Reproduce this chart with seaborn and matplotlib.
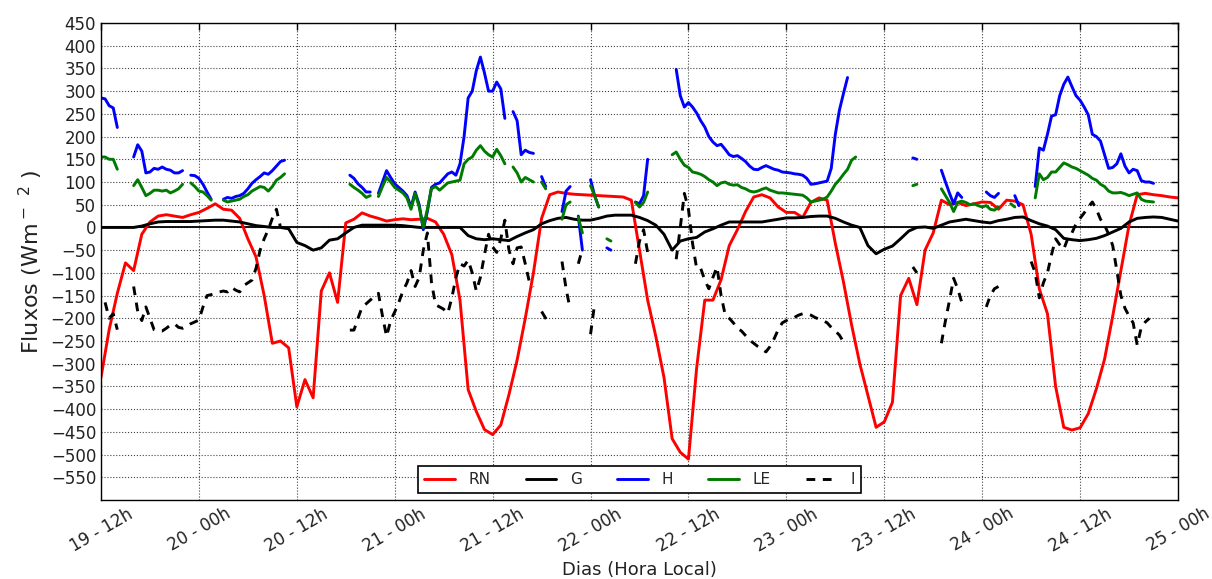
import numpy as np
import pandas as pd
import matplotlib
matplotlib.use("Agg")
import matplotlib.pyplot as plt
from matplotlib.lines import Line2D
import seaborn as sns

nan = np.nan

# Time axis: hours counted from day 19, 12h (local time)
hours = np.arange(0, 133)            # hourly series (RN, G)
half_hours = np.arange(0, 265) / 2.0  # half-hourly series (H, LE, I)

tick_hours = [0, 12, 24, 36, 48, 60, 72, 84, 96, 108, 120, 132]
tick_labels = ["19 - 12h", "20 - 00h", "20 - 12h", "21 - 00h", "21 - 12h",
               "22 - 00h", "22 - 12h", "23 - 00h", "23 - 12h", "24 - 00h",
               "24 - 12h", "25 - 00h"]

# Net radiation (hourly)
rn = [-330, -225, -145, -78, -95, -15, 12, 25, 28, 25,
      22, 28, 33, 42, 52, 40, 38, 20, -25, -65,
      -150, -255, -250, -265, -395, -335, -375, -140, -100, -165,
      10, 18, 32, 25, 20, 14, 17, 19, 17, 18,
      20, 12, -15, -60, -160, -357, -405, -445, -456, -435,
      -368, -292, -200, -100, 20, 72, 78, 75, 73, 72,
      71, 70, 69, 68, 67, 60, -50, -160, -240, -330,
      -465, -495, -510, -310, -160, -160, -115, -40, -5, 35,
      67, 72, 65, 45, 33, 33, 22, 55, 65, 60,
      -35, -120, -215, -300, -370, -440, -428, -385, -150, -112,
      -170, -50, -12, 60, 50, 55, 48, 52, 56, 55,
      40, 60, 58, 50, -15, -135, -190, -350, -440, -446,
      -441, -410, -355, -290, -195, -95, 5, 72, 75, 72,
      70, 67, 65]

# Soil heat flux (hourly)
g = [0, 0, 0, 0, 0, 3, 8, 12, 13, 13,
     13, 13, 14, 15, 16, 16, 14, 12, 8, 4,
     2, 0, 0, -3, -33, -40, -50, -45, -28, -25,
     -12, 0, 5, 5, 5, 5, 5, 4, 2, 0,
     0, 0, 0, 0, 0, -18, -25, -27, -25, -27,
     -29, -20, -12, -5, 8, 15, 20, 22, 18, 16,
     16, 20, 25, 27, 27, 27, 22, 15, 5, -15,
     -50, -30, -25, -22, -10, -3, 5, 12, 12, 12,
     12, 12, 15, 18, 21, 21, 22, 24, 25, 25,
     20, 12, 5, 0, -40, -58, -48, -41, -25, -8,
     0, 1, -2, 5, 12, 15, 18, 15, 12, 10,
     15, 18, 22, 23, 15, 8, 3, -5, -24, -27,
     -29, -27, -24, -18, -10, -2, 12, 20, 22, 23,
     22, 18, 14]

# Sensible heat flux (half-hourly)
h = [285, 283, 268, 263, 220, nan, nan, nan, 155, 182,
     168, 120, 122, 130, 128, 133, 128, 126, 120, 120,
     125, nan, 115, 114, 108, 95, 78, 62, nan, nan,
     62, 66, 64, 68, 70, 75, 85, 97, 105, 112,
     120, 117, 125, 135, 145, 148, nan, nan, nan, nan,
     nan, nan, nan, nan, nan, nan, nan, nan, nan, nan,
     nan, 115, 108, 96, 88, 78, 78, nan, 75, 100,
     125, 110, 96, 88, 80, 70, 45, 78, 50, -5,
     35, 88, 95, 98, 108, 118, 122, 115, 140, 200,
     285, 300, 345, 375, 340, 300, 300, 320, 305, 240,
     nan, 255, 235, 160, 170, 165, 163, nan, 112, 90,
     nan, nan, nan, 35, 80, 90, nan, 25, -50, nan,
     105, 70, 45, nan, -45, -50, nan, nan, nan, nan,
     nan, 56, 52, 70, 150, nan, nan, nan, nan, nan,
     nan, 348, 290, 265, 275, 265, 252, 235, 221, 200,
     188, 180, 183, 172, 160, 156, 158, 152, 145, 135,
     128, 127, 132, 136, 132, 128, 126, 122, 121, 120,
     118, 117, 115, 108, 95, 96, 98, 100, 102, 130,
     205, 258, 295, 330, nan, nan, nan, nan, nan, nan,
     nan, nan, nan, nan, nan, nan, nan, nan, nan, 153,
     150, nan, nan, nan, nan, nan, 126, 100, 75, 52,
     76, 66, nan, nan, nan, nan, nan, 78, 70, 66,
     75, nan, nan, nan, 70, 48, nan, nan, nan, 90,
     175, 170, 205, 245, 248, 290, 315, 331, 310, 290,
     280, 265, 248, 205, 200, 190, 160, 130, 132, 140,
     162, 135, 120, 128, 125, 103, 100, 100, 97, nan,
     nan, nan, nan, nan, nan]

# Latent heat flux (half-hourly)
le = [155, 155, 150, 150, 128, nan, nan, nan, 92, 105,
      88, 70, 75, 82, 82, 80, 82, 76, 80, 85,
      95, nan, 98, 90, 80, 78, 70, 60, nan, nan,
      60, 56, 58, 60, 62, 68, 72, 80, 85, 90,
      88, 80, 90, 104, 110, 118, nan, nan, nan, nan,
      nan, nan, nan, nan, nan, nan, nan, nan, nan, nan,
      nan, 95, 88, 82, 75, 66, 70, nan, 68, 90,
      110, 100, 88, 82, 76, 65, 40, 75, 45, 0,
      40, 85, 90, 82, 90, 98, 100, 102, 104, 140,
      150, 155, 170, 180, 168, 160, 155, 172, 158, 140,
      nan, 133, 120, 100, 110, 105, 100, nan, 100, 85,
      nan, nan, nan, 18, 50, 56, nan, 22, -12, nan,
      92, 70, 45, nan, -25, -30, nan, nan, nan, nan,
      nan, 55, 45, 55, 78, nan, nan, nan, nan, nan,
      160, 166, 150, 137, 132, 122, 120, 117, 112, 105,
      100, 92, 98, 100, 95, 93, 94, 88, 85, 80,
      78, 80, 84, 87, 82, 79, 76, 76, 75, 74,
      73, 72, 71, 65, 56, 58, 60, 62, 67, 80,
      95, 105, 117, 128, 148, 155, nan, nan, nan, nan,
      nan, nan, nan, nan, nan, nan, nan, nan, nan, 92,
      95, nan, nan, nan, nan, nan, 85, 70, 55, 35,
      55, 58, 55, 50, 52, 48, 45, 48, 40, 38,
      45, nan, nan, 52, 45, nan, nan, nan, nan, 65,
      118, 105, 110, 122, 122, 132, 142, 138, 133, 130,
      125, 120, 115, 108, 104, 95, 90, 80, 76, 76,
      77, 74, 70, 73, 76, 62, 58, 57, 56, nan,
      nan, nan, nan, nan, nan]

# Residual term I (half-hourly)
i_res = [nan, -165, -200, -190, -225, nan, nan, nan, -130, -185,
         -205, -175, -200, -225, -228, -228, -222, -215, -212, -220,
         -222, -218, -212, -208, -204, -175, -150, -148, -145, -142,
         -140, -142, -132, -138, -142, -128, -122, -116, -90, -50,
         -25, -5, 20, 40, 0, nan, nan, nan, nan, nan,
         nan, nan, nan, nan, nan, nan, nan, nan, nan, nan,
         nan, -226, -226, -200, -175, -168, -160, -152, -145, -195,
         -240, -205, -186, -165, -140, -122, -95, -130, -110, -50,
         -12, -120, -170, -175, -180, -189, -155, -110, -80, -85,
         -72, -100, -140, -110, -60, -15, -43, -55, -25, 16,
         -50, -80, -45, -43, -80, -120, -131, nan, -185, -200,
         -212, nan, nan, -75, -135, -180, nan, -80, -48, nan,
         -235, -168, nan, nan, nan, nan, nan, nan, nan, nan,
         nan, -80, -30, -5, -55, nan, nan, nan, nan, nan,
         nan, -70, 0, 75, 40, -35, -90, -90, -116, -135,
         -110, -87, -150, -192, -200, -210, -222, -228, -238, -248,
         -255, -262, -268, -274, -262, -245, -225, -210, -205, -200,
         -198, -193, -190, -190, -193, -198, -202, -205, -210, -220,
         -228, -237, -252, nan, nan, nan, nan, nan, nan, nan,
         nan, nan, nan, nan, nan, nan, nan, nan, nan, -87,
         -100, nan, nan, nan, nan, nan, -255, -205, -160, -112,
         -135, -165, nan, nan, nan, nan, nan, -175, -150, -135,
         -130, nan, nan, nan, nan, nan, nan, nan, -75, -100,
         -155, -122, -100, -60, -25, -38, -48, -24, -12, 8,
         20, 32, 45, 56, 40, 18, 5, -15, -40, -95,
         -150, -178, -195, -210, -259, -220, -208, -200, nan, nan,
         nan, nan, nan, nan, nan]

series_order = ["RN", "G", "H", "LE", "I"]
series_time = {"RN": hours, "G": hours, "H": half_hours, "LE": half_hours, "I": half_hours}
series_vals = {"RN": rn, "G": g, "H": h, "LE": le, "I": i_res}
colors = {"RN": "#ff0000", "G": "#000000", "H": "#0000ff", "LE": "#007a00", "I": "#000000"}
styles = {"RN": "-", "G": "-", "H": "-", "LE": "-", "I": (0, (3, 2.6))}


def to_frame(name):
    vals = pd.Series(series_vals[name], dtype=float)
    df = pd.DataFrame({"t": series_time[name], "valor": vals,
                       "trecho": vals.isna().cumsum()})
    return df.dropna(subset=["valor"])


sns.set_theme(style="white", rc={
    "axes.edgecolor": "black",
    "axes.linewidth": 1.0,
    "xtick.direction": "in",
    "ytick.direction": "in",
})
plt.rcParams["font.family"] = ["DejaVu Sans"]
plt.rcParams["mathtext.fontset"] = "dejavusans"

fig = plt.figure(figsize=(12.12, 5.79), dpi=100)
ax = fig.add_axes([101 / 1212, 1 - 500 / 579, (1178 - 101) / 1212, (500 - 23) / 579])

for name in series_order:
    sns.lineplot(data=to_frame(name), x="t", y="valor", units="trecho",
                 estimator=None, sort=False, color=colors[name],
                 linestyle=styles[name], linewidth=2.1, ax=ax, legend=False)

ax.axhline(0, color="black", linewidth=1.3, zorder=1.5)

ax.set_xlim(0, 132)
ax.set_ylim(-600, 450)
ax.set_xticks(tick_hours)
ax.set_xticklabels(tick_labels, rotation=30, ha="center")
ax.set_yticks(np.arange(-550, 451, 50))

ax.grid(True, color="#444444", linestyle=":", linewidth=0.8)
ax.tick_params(axis="both", which="major", direction="in", top=True, right=True,
               length=5, width=1, labelsize=12, labelcolor="#222222", color="black")
for sp in ax.spines.values():
    sp.set_visible(True)
    sp.set_color("black")
    sp.set_linewidth(1.0)

ax.set_xlabel("Dias (Hora Local)", fontsize=13, color="#222222")
ax.set_ylabel("Fluxos (Wm$^-$ $^2$ )", fontsize=16, color="#222222")

handles = [Line2D([], [], color=colors[n], linestyle=styles[n], linewidth=2.1)
           for n in series_order]
leg = ax.legend(handles, series_order, loc="lower center", ncol=5, fontsize=11,
                frameon=True, fancybox=False, framealpha=1, edgecolor="black",
                handlelength=2.0, handletextpad=0.9, columnspacing=2.3,
                borderpad=0.4, borderaxespad=0.45)
leg.get_frame().set_linewidth(1.2)

fig.savefig("out.png", dpi=100)
